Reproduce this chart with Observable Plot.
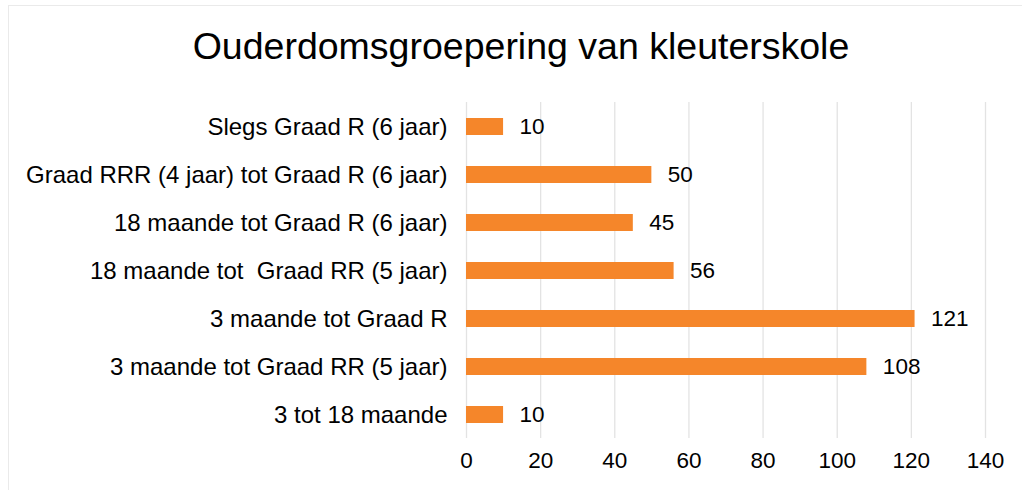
<!DOCTYPE html>
<html>
<head>
<meta charset="utf-8">
<script src="https://cdn.jsdelivr.net/npm/d3@7"></script>
<script src="https://cdn.jsdelivr.net/npm/@observablehq/plot@0.6"></script>
<style>
  html, body { margin: 0; padding: 0; background: #fff; }
  #wrap { position: relative; width: 1022px; height: 490px; overflow: hidden; font-family: "Liberation Sans", Arial, sans-serif; }
  #frame { position: absolute; left: 8px; top: 5px; width: 1030px; height: 500px; border: 1.5px solid #EAEAEA; box-sizing: border-box; }
  #title { position: absolute; left: 0; top: 25px; width: 1042px; text-align: center; font-size: 37.5px; color: #000; white-space: nowrap; }
  #chart { position: absolute; left: 0; top: 0; }
</style>
</head>
<body>
<div id="wrap">
  <div id="frame"></div>
  <div id="chart"></div>
  <div id="title">Ouderdomsgroepering van kleuterskole</div>
</div>
<script>
const categories = [
  "Slegs Graad R (6 jaar)",
  "Graad RRR (4 jaar) tot Graad R (6 jaar)",
  "18 maande tot Graad R (6 jaar)",
  "18 maande tot  Graad RR (5 jaar)",
  "3 maande tot Graad R",
  "3 maande tot Graad RR (5 jaar)",
  "3 tot 18 maande"
];
const values = [10, 50, 45, 56, 121, 108, 10];
const xTicks = [0, 20, 40, 60, 80, 100, 120, 140];

const data = categories.map((c, i) => ({category: c, value: values[i]}));

const chart = Plot.plot({
  width: 1022,
  height: 490,
  marginTop: 102,
  marginBottom: 52,
  marginLeft: 466,
  marginRight: 37,
  style: {fontFamily: "'Liberation Sans', Arial, sans-serif", fontSize: "23px", color: "#000", background: "transparent"},
  x: {domain: [0, 140], ticks: xTicks, label: null, tickSize: 0, tickPadding: 14},
  y: {domain: categories, label: null, tickSize: 0, tickPadding: 19, paddingInner: 0.65, paddingOuter: 0.325},
  marks: [
    Plot.gridX(xTicks, {stroke: "#E3E3E3", strokeOpacity: 1, strokeWidth: 1.3}),
    Plot.barX(data, {x: "value", y: "category", fill: "#F5862A"}),
    Plot.text(data, {x: "value", y: "category", text: d => String(d.value), textAnchor: "start", dx: 16, fontSize: 22.5, fill: "#000"}),
    Plot.axisX({ticks: xTicks, tickSize: 0, tickPadding: 14, label: null, fontSize: 22.5}),
    Plot.axisY({tickSize: 0, tickPadding: 19, label: null, fontSize: 24})
  ]
});
document.getElementById("chart").appendChild(chart);
</script>
</body>
</html>
